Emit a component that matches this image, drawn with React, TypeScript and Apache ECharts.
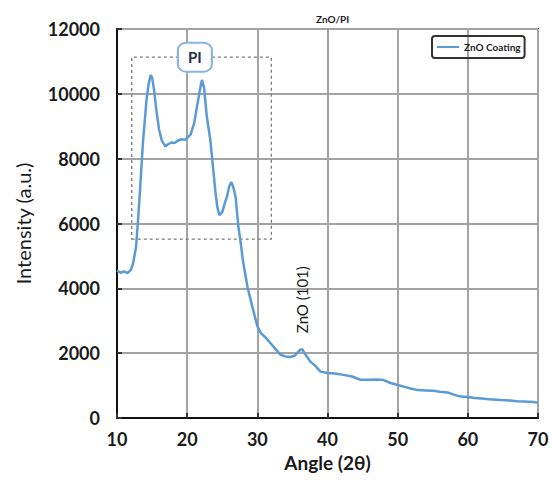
import React, { useEffect, useRef } from "react";
import * as echarts from "echarts";

const angles = [10, 10.5, 11, 11.5, 12, 12.3, 12.7, 13, 13.3, 13.7, 14.2, 14.5, 14.8, 15, 15.3, 15.6, 16, 16.4, 16.9, 17.3, 17.8, 18.2, 18.7, 19.2, 19.7, 20.1, 20.5, 21, 21.4, 21.8, 22.1, 22.4, 22.8, 23.3, 23.7, 24, 24.3, 24.6, 25, 25.4, 25.7, 26, 26.3, 26.6, 26.9, 27.3, 27.6, 28, 28.6, 29.3, 30, 30.5, 31.1, 31.6, 32.1, 32.7, 33.3, 34, 34.7, 35.3, 35.8, 36.1, 36.4, 36.8, 37.1, 37.6, 38.3, 39, 40, 41, 42.3, 43.5, 44.7, 46, 47, 48, 49, 50, 51, 52, 52.9, 54, 55.1, 56, 57.1, 58, 59, 60, 61, 62, 63, 64.7, 66, 67, 68, 69.4, 70];

const intensity = [4550, 4480, 4520, 4470, 4580, 4780, 5250, 6100, 7100, 8500, 9800, 10300, 10580, 10500, 10100, 9500, 8900, 8550, 8380, 8450, 8500, 8480, 8560, 8600, 8580, 8660, 8750, 9100, 9600, 10100, 10430, 10200, 9300, 8580, 7700, 7030, 6500, 6260, 6350, 6650, 6850, 7150, 7280, 7100, 6820, 5900, 5450, 4780, 4040, 3420, 2830, 2620, 2500, 2380, 2250, 2100, 1950, 1900, 1880, 1920, 2030, 2100, 2120, 1980, 1880, 1730, 1600, 1430, 1390, 1370, 1330, 1280, 1180, 1180, 1190, 1170, 1080, 1020, 960, 900, 860, 850, 840, 810, 790, 720, 660, 650, 620, 600, 580, 555, 540, 520, 510, 490, 470];

const seriesName = "ZnO Coating";
const chartTitle = "ZnO/PI";
const xTicks = { min: 10, max: 70, interval: 10 };
const yTicks = { min: 0, max: 12000, interval: 2000 };
const piBox = { x0: 12.1, y0: 5520, x1: 32, y1: 11130 };
const piLabel = { x: 21.1, y: 11130, text: "PI" };
const zincLabel = { x: 36.3, y: 3650, text: "ZnO (101)" };

const FONT = "Lato, 'Open Sans', sans-serif";

export default function App() {
  const ref = useRef<HTMLDivElement>(null);
  useEffect(() => {
    if (!ref.current) return;
    const chart = echarts.init(ref.current, null, { renderer: "svg" });
    const data = angles.map((a, i) => [a, intensity[i]]);
    chart.setOption({
      animation: false,
      backgroundColor: "#fff",
      title: {
        text: chartTitle,
        left: 311,
        top: 9,
        textStyle: { fontSize: 10, fontWeight: "bold", color: "#1f1f2e", fontFamily: FONT },
      },
      legend: {
        data: [{ name: seriesName, icon: "rect" }],
        left: 432,
        top: 36,
        padding: [6, 4, 6, 5],
        itemWidth: 22,
        itemHeight: 2,
        itemGap: 2,
        borderColor: "#333",
        borderWidth: 2,
        borderRadius: 3,
        textStyle: { fontSize: 10, fontWeight: "bold", color: "#1f1f2e", fontFamily: FONT },
      },
      grid: {
        left: 117,
        right: 14,
        top: 29,
        bottom: 65,
        show: true,
        borderColor: "#262626",
        borderWidth: 2,
        outerBoundsMode: "none",
      },
      xAxis: {
        type: "value",
        min: xTicks.min,
        max: xTicks.max,
        interval: xTicks.interval,
        name: "Angle (2θ)",
        nameLocation: "middle",
        nameGap: 35,
        nameTextStyle: { fontSize: 19, fontWeight: "bold", color: "#1a1a1a", fontFamily: FONT },
        axisLine: { show: true, lineStyle: { color: "#111", width: 2 } },
        axisTick: { show: true, inside: true, length: 5, lineStyle: { color: "#333", width: 2 } },
        axisLabel: { margin: 12, fontSize: 18, fontWeight: "bold", color: "#1a1a1a", fontFamily: FONT },
        splitLine: { show: true, lineStyle: { color: "#a3a3a3", width: 2 } },
      },
      yAxis: {
        type: "value",
        min: yTicks.min,
        max: yTicks.max,
        interval: yTicks.interval,
        name: "Intensity (a.u.)",
        nameLocation: "middle",
        nameGap: 84,
        nameTextStyle: { fontSize: 20, fontWeight: "normal", color: "#1a1a1a", fontFamily: FONT },
        axisLine: { show: true, lineStyle: { color: "#111", width: 2 } },
        axisTick: { show: true, inside: true, length: 5, lineStyle: { color: "#333", width: 2 } },
        axisLabel: {
          margin: 17,
          fontSize: 18,
          fontWeight: "bold",
          color: "#1a1a1a",
          fontFamily: FONT,
          formatter: (v: number) => String(v),
        },
        splitLine: { show: true, lineStyle: { color: "#a3a3a3", width: 2 } },
      },
      series: [
        {
          name: seriesName,
          type: "line",
          data,
          symbol: "none",
          showSymbol: false,
          lineStyle: { color: "#5b9bd5", width: 2.5 },
          itemStyle: { color: "#5b9bd5" },
          markArea: {
            silent: true,
            itemStyle: {
              color: "rgba(0,0,0,0)",
              borderColor: "#7a7a7a",
              borderWidth: 1.3,
              borderType: [3, 3],
            },
            data: [[{ coord: [piBox.x0, piBox.y0] }, { coord: [piBox.x1, piBox.y1] }]],
          },
          markPoint: {
            silent: true,
            data: [
              {
                coord: [piLabel.x, piLabel.y],
                symbol: "roundRect",
                symbolSize: [34, 29],
                itemStyle: { color: "#fff", borderColor: "#8db3e2", borderWidth: 2 },
                label: {
                  show: true,
                  position: "inside",
                  formatter: piLabel.text,
                  fontSize: 15,
                  fontWeight: "bold",
                  color: "#1f2d4d",
                  fontFamily: FONT,
                },
              },
              {
                coord: [zincLabel.x, zincLabel.y],
                symbol: "circle",
                symbolSize: 1,
                itemStyle: { color: "rgba(0,0,0,0)" },
                label: {
                  show: true,
                  position: "inside",
                  rotate: 90,
                  formatter: zincLabel.text,
                  fontSize: 15,
                  color: "#1a1a1a",
                  fontFamily: FONT,
                },
              },
            ],
          },
        },
      ],
    });
    return () => chart.dispose();
  }, []);
  return <div ref={ref} style={{ position: "fixed", left: 0, top: 0, width: 552, height: 483 }} />;
}
